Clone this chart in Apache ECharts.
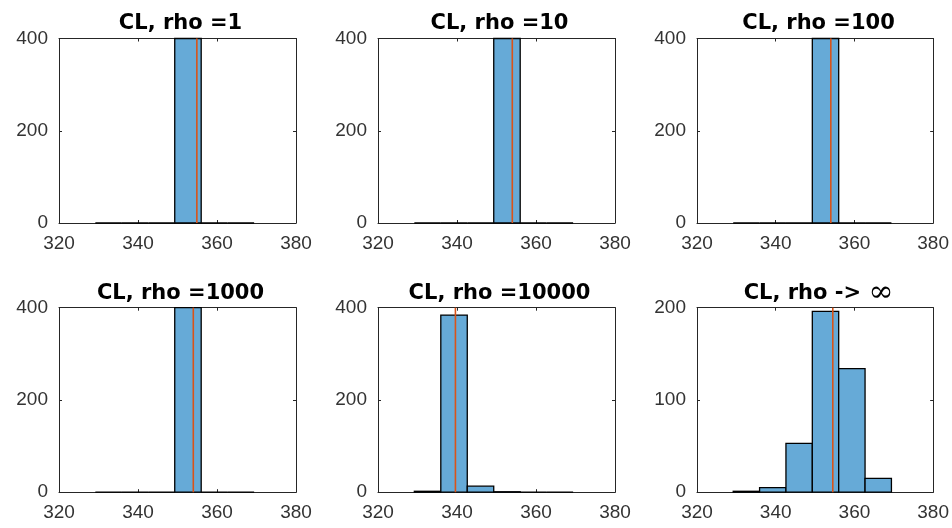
<!DOCTYPE html>
<html>
<head>
<meta charset="utf-8">
<script src="https://cdn.jsdelivr.net/npm/echarts@6/dist/echarts.min.js"></script>
<style>
html,body{margin:0;padding:0;background:#fff;}
#chart{width:952px;height:528px;}
</style>
</head>
<body>
<div id="chart"></div>
<script>
// ---- data ----
var titles = ['CL, rho =1', 'CL, rho =10', 'CL, rho =100', 'CL, rho =1000', 'CL, rho =10000', 'CL, rho -> \u221E'];
var binEdges = [329.2, 335.9, 342.6, 349.3, 356.0, 362.7, 369.4];
var counts1 = [0, 0, 0, 400, 0, 0];
var counts2 = [0, 0, 0, 400, 0, 0];
var counts3 = [0, 0, 0, 400, 0, 0];
var counts4 = [0, 0, 0, 400, 0, 0];
var counts5 = [2, 384, 13, 1, 0, 0];
var counts6 = [1, 5, 53, 196, 134, 15];
var meanValues = [354.9, 354.0, 354.0, 354.0, 339.6, 354.5];
var xTicks = [320, 340, 360, 380];
var yMaxes = [400, 400, 400, 400, 400, 200];
var yIntervals = [200, 200, 200, 200, 200, 100];

var allCounts = [counts1, counts2, counts3, counts4, counts5, counts6];

// ---- layout ----
var gridLefts = [59, 378, 697];
var gridTops = [38.5, 307.7];
var gridW = 237, gridH = 184.5;
var axisColor = '#262626';
var labelColor = '#333333';
var font = 'Liberation Sans, Arial, Helvetica, sans-serif';

var grids = [], xAxes = [], yAxes = [], series = [], titleOpts = [];
for (var i = 0; i < 6; i++) {
  var col = i % 3, row = Math.floor(i / 3);
  grids.push({left: gridLefts[col], top: gridTops[row], width: gridW, height: gridH, show: false});
  var xBase = {
    type: 'value', gridIndex: i, min: xTicks[0], max: xTicks[xTicks.length - 1],
    interval: xTicks[1] - xTicks[0],
    axisLine: {show: true, onZero: false, lineStyle: {color: axisColor, width: 1}},
    axisTick: {show: true, inside: true, length: 3, lineStyle: {color: axisColor}},
    splitLine: {show: false}
  };
  xAxes.push(Object.assign({}, xBase, {
    position: 'bottom',
    axisLabel: {show: true, color: labelColor, fontFamily: font, fontSize: 19, margin: 11}
  }));
  xAxes.push(Object.assign({}, xBase, {position: 'top', axisLabel: {show: false}}));
  var yBase = {
    type: 'value', gridIndex: i, min: 0, max: yMaxes[i], interval: yIntervals[i],
    axisLine: {show: true, onZero: false, lineStyle: {color: axisColor, width: 1}},
    axisTick: {show: true, inside: true, length: 3, lineStyle: {color: axisColor}},
    splitLine: {show: false}
  };
  yAxes.push(Object.assign({}, yBase, {
    position: 'left',
    axisLabel: {show: true, color: labelColor, fontFamily: font, fontSize: 19, margin: 11}
  }));
  yAxes.push(Object.assign({}, yBase, {position: 'right', axisLabel: {show: false}}));

  var data = [];
  for (var b = 0; b < allCounts[i].length; b++) {
    data.push([binEdges[b], binEdges[b + 1], allCounts[i][b]]);
  }
  series.push({
    type: 'custom',
    xAxisIndex: 2 * i, yAxisIndex: 2 * i,
    data: data,
    encode: {x: [0, 1], y: 2},
    clip: false,
    z: 2,
    renderItem: function (params, api) {
      var p0 = api.coord([api.value(0), 0]);
      var p1 = api.coord([api.value(1), api.value(2)]);
      return {
        type: 'rect',
        shape: {x: p0[0], y: p1[1], width: p1[0] - p0[0], height: p0[1] - p1[1]},
        style: {fill: '#66AAD7', stroke: '#000000', lineWidth: 1.3}
      };
    }
  });
  series.push({
    type: 'line',
    xAxisIndex: 2 * i, yAxisIndex: 2 * i,
    data: [[meanValues[i], 0], [meanValues[i], yMaxes[i]]],
    symbol: 'none',
    lineStyle: {color: '#D95319', width: 1.6},
    z: 3,
    animation: false
  });
  var t = titles[i];
  var txt = t.indexOf('\u221E') >= 0
    ? '{b|' + t.replace('\u221E', '') + '}{n|\u221E}'
    : '{b|' + t + '}';
  titleOpts.push({
    text: txt,
    left: gridLefts[col] + gridW / 2 - 2,
    top: row === 0 ? 6 : 276,
    textAlign: 'center',
    textStyle: {
      fontFamily: 'DejaVu Sans, sans-serif', fontWeight: 'bold', fontSize: 21, color: '#000000',
      lineHeight: 25,
      rich: {
        b: {fontFamily: 'DejaVu Sans, sans-serif', fontWeight: 'bold', fontSize: 21, color: '#000000', lineHeight: 25},
        n: {fontFamily: 'DejaVu Serif, serif', fontWeight: 'normal', fontSize: 30, color: '#000000', lineHeight: 25}
      }
    }
  });
}

var chart = echarts.init(document.getElementById('chart'), null, {renderer: 'canvas'});
chart.setOption({
  animation: false,
  backgroundColor: '#ffffff',
  title: titleOpts,
  grid: grids,
  xAxis: xAxes,
  yAxis: yAxes,
  series: series
});
</script>
</body>
</html>
